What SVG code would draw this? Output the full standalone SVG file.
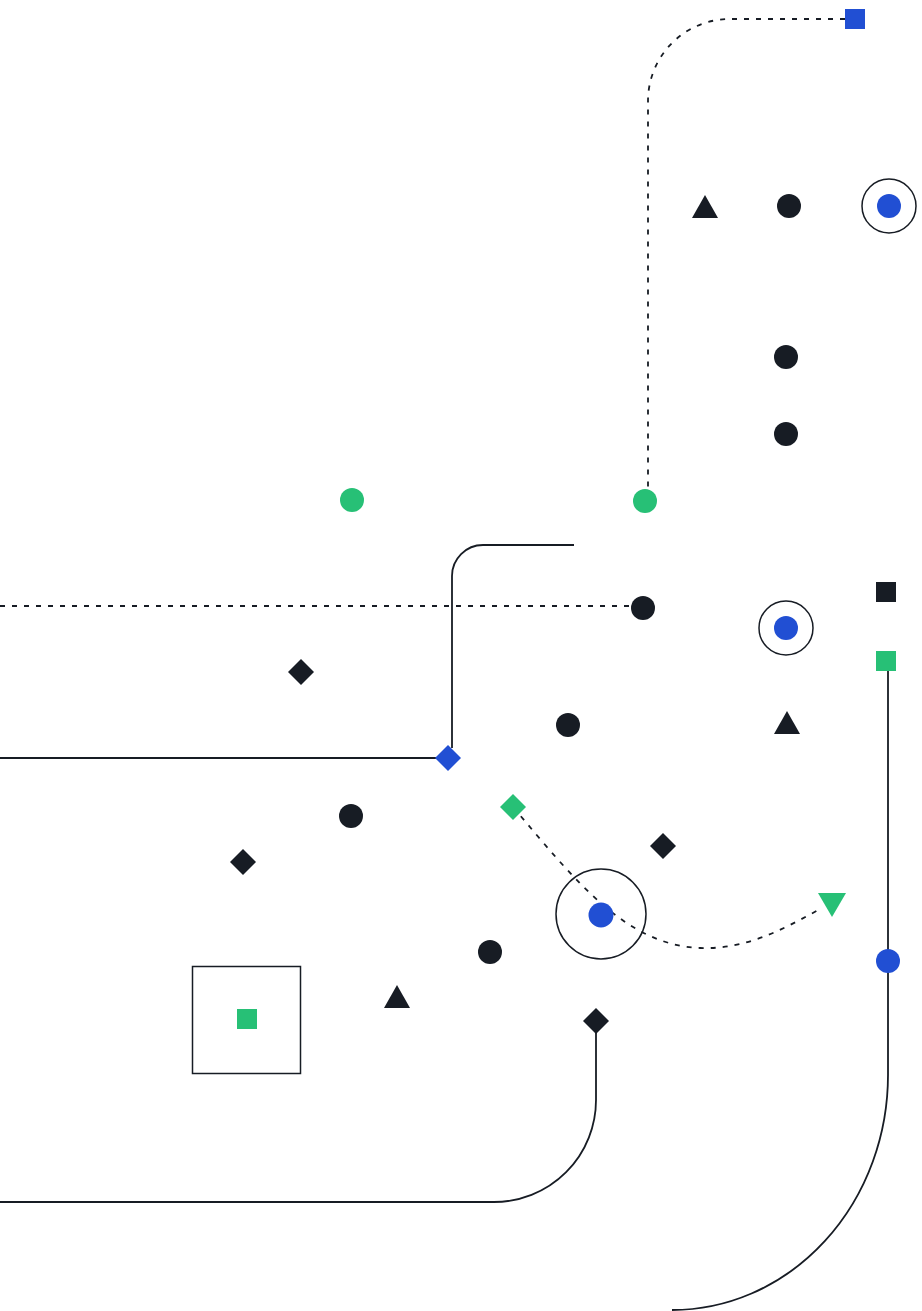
<svg xmlns="http://www.w3.org/2000/svg" width="922" height="1311" viewBox="0 0 922 1311">
  <style>
    .dark { fill: #171c24; }
    .blue { fill: #214fd3; }
    .green { fill: #27c076; }
    .wire { fill: none; stroke: #171c24; stroke-width: 1.8; }
    .dash { fill: none; stroke: #171c24; stroke-width: 1.8; stroke-dasharray: 5 7; }
    .ring { fill: none; stroke: #171c24; stroke-width: 1.5; }
  </style>
  <defs>
    <polygon id="tri" points="0,-12 13,11 -13,11"/>
    <polygon id="dia" points="0,-13 13,0 0,13 -13,0"/>
    <rect id="sq" x="-10" y="-10" width="20" height="20"/>
  </defs>
  <rect width="922" height="1311" fill="#ffffff"/>

  <g id="connectors">
    <path class="dash" d="M845 19 H730 A82 82 0 0 0 648 101 V489"/>
    <path class="dash" d="M0 606 H632"/>
    <path class="wire" d="M574 545 H483 A31 31 0 0 0 452 576 V748"/>
    <path class="wire" d="M0 758 H436"/>
    <path class="dash" d="M513 807 C575 880 625 945 700 948 C750 950 790 925 822 908"/>
    <path class="wire" d="M596 1030 V1100 A102 102 0 0 1 494 1202 H0"/>
    <path class="wire" d="M888 671 V1075 A216 235 0 0 1 672 1310"/>
  </g>

  <g id="n-top-square"><use href="#sq" class="blue" x="855" y="19"/></g>
  <g id="n-tri-1"><use href="#tri" class="dark" x="705" y="207"/></g>
  <g id="n-dot-1"><circle class="dark" cx="789" cy="206" r="12"/></g>
  <g id="n-ring-1"><circle class="ring" cx="889" cy="206" r="27"/><circle class="blue" cx="889" cy="206" r="12"/></g>
  <g id="n-dot-2"><circle class="dark" cx="786" cy="357" r="12"/></g>
  <g id="n-dot-3"><circle class="dark" cx="786" cy="434" r="12"/></g>
  <g id="n-green-1"><circle class="green" cx="352" cy="500" r="12"/></g>
  <g id="n-green-2"><circle class="green" cx="645" cy="501" r="12"/></g>
  <g id="n-dot-4"><circle class="dark" cx="643" cy="608" r="12"/></g>
  <g id="n-ring-2"><circle class="ring" cx="786" cy="628" r="27"/><circle class="blue" cx="786" cy="628" r="12"/></g>
  <g id="n-black-square"><use href="#sq" class="dark" x="886" y="592"/></g>
  <g id="n-green-square"><use href="#sq" class="green" x="886" y="661"/></g>
  <g id="n-dia-1"><use href="#dia" class="dark" x="301" y="672"/></g>
  <g id="n-dot-5"><circle class="dark" cx="568" cy="725" r="12"/></g>
  <g id="n-tri-2"><use href="#tri" class="dark" x="787" y="723"/></g>
  <g id="n-blue-dia"><use href="#dia" class="blue" x="448" y="758"/></g>
  <g id="n-green-dia"><use href="#dia" class="green" x="513" y="807"/></g>
  <g id="n-dot-6"><circle class="dark" cx="351" cy="816" r="12"/></g>
  <g id="n-dia-2"><use href="#dia" class="dark" x="663" y="846"/></g>
  <g id="n-dia-3"><use href="#dia" class="dark" x="243" y="862"/></g>
  <g id="n-ring-3"><circle class="ring" cx="601" cy="914" r="45"/><circle class="blue" cx="601" cy="915" r="12.5"/></g>
  <g id="n-green-tri"><polygon class="green" points="818,893 846,893 832,917"/></g>
  <g id="n-dot-7"><circle class="dark" cx="490" cy="952" r="12"/></g>
  <g id="n-blue-dot"><circle class="blue" cx="888" cy="961" r="12"/></g>
  <g id="n-tri-3"><use href="#tri" class="dark" x="397" y="997"/></g>
  <g id="n-dia-4"><use href="#dia" class="dark" x="596" y="1021"/></g>
  <g id="n-box"><rect class="ring" x="192.5" y="966.5" width="108" height="107"/><use href="#sq" class="green" x="247" y="1019"/></g>
</svg>
